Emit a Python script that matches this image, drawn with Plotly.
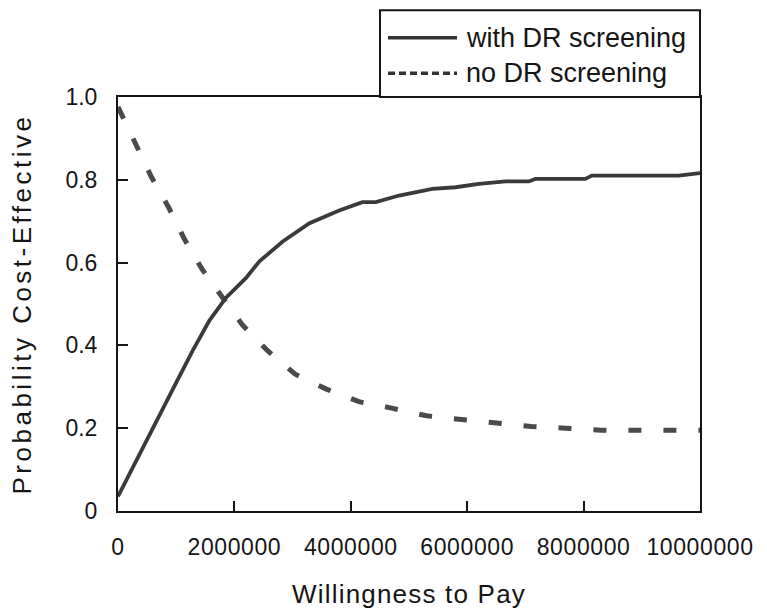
import plotly.graph_objects as go

# ---- data ----
wtp_with = [0, 430000, 710000, 1000000, 1290000, 1570000, 1860000, 2030000, 2200000,
            2430000, 2830000, 3290000, 3800000, 4200000, 4430000, 4830000, 5400000,
            5800000, 6200000, 6660000, 7060000, 7170000, 8030000, 8140000, 9630000, 10000000]
prob_with = [0.035, 0.155, 0.23, 0.31, 0.389, 0.46, 0.516, 0.54, 0.563,
             0.603, 0.651, 0.695, 0.726, 0.746, 0.746, 0.762, 0.778,
             0.782, 0.79, 0.796, 0.796, 0.802, 0.802, 0.81, 0.81, 0.816]

wtp_no = [0, 315000, 570000, 875000, 1140000, 1450000, 1800000, 2140000, 2570000,
          3040000, 3570000, 4140000, 4720000, 5300000, 5900000, 6500000, 7100000,
          7690000, 8300000, 8900000, 9520000, 10000000]
prob_no = [0.976, 0.885, 0.808, 0.732, 0.657, 0.583, 0.516, 0.449, 0.387,
           0.331, 0.295, 0.264, 0.248, 0.23, 0.221, 0.212, 0.204,
           0.2, 0.195, 0.195, 0.195, 0.195]

series_names = ["with DR screening", "no DR screening"]
x_tick_vals = [0, 2000000, 4000000, 6000000, 8000000, 10000000]
x_tick_text = ["0", "2000000", "4000000", "6000000", "8000000", "10000000"]
y_tick_vals = [0, 0.2, 0.4, 0.6, 0.8, 1.0]
y_tick_text = ["0", "0.2", "0.4", "0.6", "0.8", "1.0"]
x_title = "Willingness to Pay"
y_title = "Probability Cost-Effective"

# ---- layout geometry (pixels) ----
W, H = 767, 616
L, R, T, B = 118, 700, 97, 517
FONT = "Arial, Liberation Sans, Helvetica, sans-serif"
INK = "#151515"


def fx(p):
    return (p - L) / (R - L)


def fy(p):
    return (B - p) / (B - T)


fig = go.Figure()

fig.add_trace(go.Scatter(x=wtp_no, y=prob_no, mode="lines", name=series_names[1],
                         line=dict(color="#4a4a4a", width=5, dash="13px,22px"),
                         showlegend=False))
fig.add_trace(go.Scatter(x=wtp_with, y=prob_with, mode="lines", name=series_names[0],
                         line=dict(color="#3a3a3a", width=3.8),
                         showlegend=False))

axis_common = dict(showline=True, mirror=True, linecolor=INK, linewidth=2,
                   ticks="inside", ticklen=10, tickwidth=2, tickcolor=INK,
                   showgrid=False, zeroline=False,
                   tickfont=dict(family=FONT, size=23, color=INK))

fig.update_xaxes(range=[0, 10000000], tickmode="array", tickvals=x_tick_vals,
                 ticktext=x_tick_text, ticklabelstandoff=14,
                 title=dict(text=x_title, standoff=26,
                            font=dict(family=FONT, size=26, color=INK)),
                 **axis_common)
fig.update_yaxes(range=[0, 1], tickmode="array", tickvals=y_tick_vals,
                 ticktext=y_tick_text, ticklabelstandoff=14,
                 title=dict(text=y_title, standoff=26,
                            font=dict(family=FONT, size=26, color=INK)),
                 **axis_common)

# ---- hand-drawn legend box (sits on top of the plot frame) ----
shapes = [
    dict(type="rect", xref="paper", yref="paper", x0=fx(380), x1=fx(700),
         y0=fy(97), y1=fy(9), line=dict(color=INK, width=2), fillcolor="white",
         layer="above"),
    dict(type="line", xref="paper", yref="paper", x0=fx(388), x1=fx(457),
         y0=fy(37), y1=fy(37), line=dict(color="#333333", width=3.5)),
    dict(type="line", xref="paper", yref="paper", x0=fx(388), x1=fx(457),
         y0=fy(73), y1=fy(73), line=dict(color="#333333", width=3.5, dash="7px,4px")),
]
annotations = [
    dict(xref="paper", yref="paper", x=fx(464), y=fy(37), text=series_names[0],
         showarrow=False, xanchor="left", yanchor="middle",
         font=dict(family=FONT, size=27, color=INK)),
    dict(xref="paper", yref="paper", x=fx(464), y=fy(73), text=series_names[1],
         showarrow=False, xanchor="left", yanchor="middle",
         font=dict(family=FONT, size=27, color=INK)),
]

fig.update_layout(width=W, height=H, autosize=False,
                  margin=dict(l=L, r=W - R, t=T, b=H - B, pad=0),
                  paper_bgcolor="white", plot_bgcolor="white",
                  showlegend=False, shapes=shapes, annotations=annotations,
                  font=dict(family=FONT, color=INK))

post = """
document.body.style.margin = '0';
document.body.style.padding = '0';
var gd = document.getElementById('{plot_id}');
gd.querySelectorAll('.ytitle').forEach(function(e){e.style.letterSpacing='3.5px';});
gd.querySelectorAll('.xtitle').forEach(function(e){e.style.letterSpacing='1.2px';});
gd.querySelectorAll('.xtick text').forEach(function(e){e.style.letterSpacing='0.6px';});
"""

fig.write_html("out.html", post_script=post, config={"displayModeBar": False})
